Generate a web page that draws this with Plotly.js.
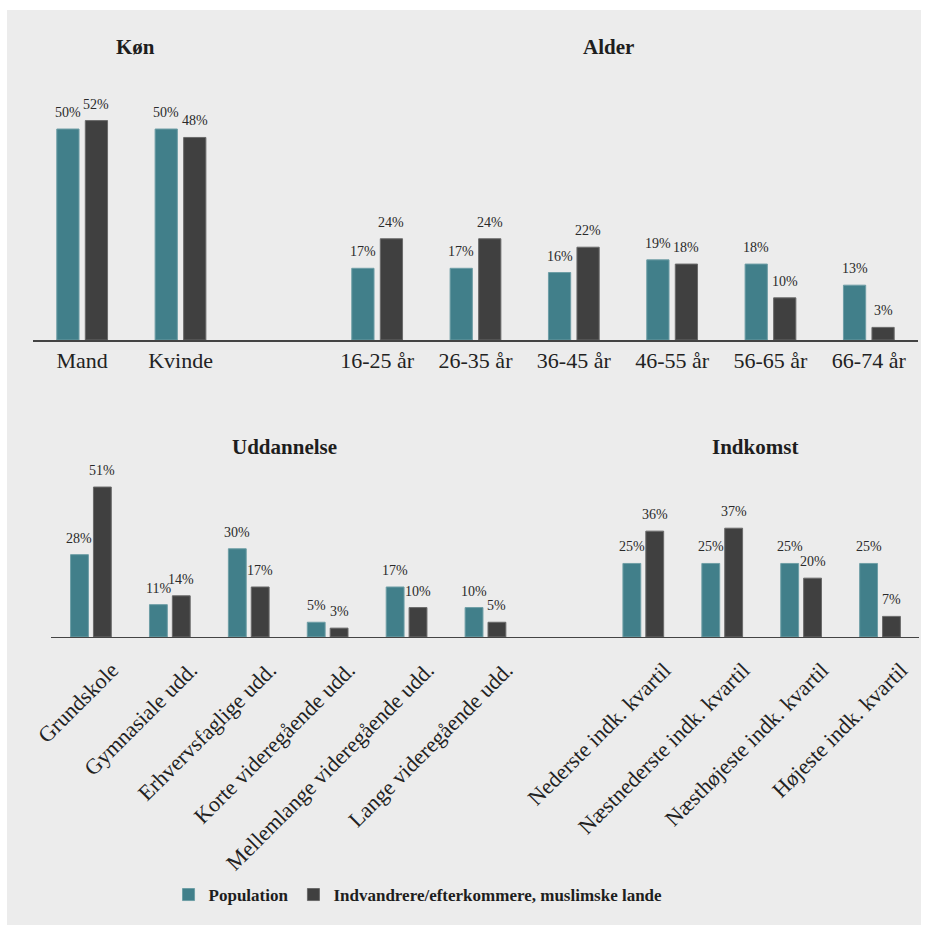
<!DOCTYPE html>
<html>
<head>
<meta charset="utf-8">
<script src="https://cdn.plot.ly/plotly-3.0.1.min.js"></script>
<style>
  html, body { margin: 0; padding: 0; background: #ffffff; }
  #chart { position: absolute; left: 7px; top: 10px; width: 914px; height: 915px; }
</style>
</head>
<body>
<div id="chart"></div>
<script>
// Køn
const konCats = ['Mand', 'Kvinde'];
const konPop = [50, 50];
const konImm = [52, 48];
// Alder
const alderCats = ['16-25 år', '26-35 år', '36-45 år', '46-55 år', '56-65 år', '66-74 år'];
const alderPop = [17, 17, 16, 19, 18, 13];
const alderImm = [24, 24, 22, 18, 10, 3];
// Uddannelse
const uddCats = ['Grundskole', 'Gymnasiale udd.', 'Erhvervsfaglige udd.', 'Korte videregående udd.',
                 'Mellemlange videregående udd.', 'Lange videregående udd.'];
const uddPop = [28, 11, 30, 5, 17, 10];
const uddImm = [51, 14, 17, 3, 10, 5];
// Indkomst
const indCats = ['Nederste indk. kvartil', 'Næstnederste indk. kvartil', 'Næsthøjeste indk. kvartil', 'Højeste indk. kvartil'];
const indPop = [25, 25, 25, 25];
const indImm = [36, 37, 20, 7];

const seriesNames = ['Population', 'Indvandrere/efterkommere, muslimske lande'];
const colPop = '#417f8a';
const colImm = '#404040';
const serif = 'Liberation Serif, Times New Roman, serif';
const BARGAP = 0.42;

// Two panels share one axis per row, with one empty slot between them.
function rowPositions(leftCats, rightCats) {
  const left = leftCats.map((_, i) => i);
  const right = rightCats.map((_, i) => leftCats.length + 1 + i);
  return { pos: left.concat(right), labels: leftCats.concat(rightCats), slots: leftCats.length + 1 + rightCats.length };
}

const topRow = rowPositions(konCats, alderCats);
const botRow = rowPositions(uddCats, indCats);
const topPop = konPop.concat(alderPop), topImm = konImm.concat(alderImm);
const botPop = uddPop.concat(indPop), botImm = uddImm.concat(indImm);

function bar(name, x, y, color, edge, xa, ya, showlegend) {
  return {
    type: 'bar', name: name, x: x, y: y, xaxis: xa, yaxis: ya,
    marker: { color: color, line: { color: edge, width: 1 } },
    showlegend: showlegend, legendgroup: name, hoverinfo: 'skip'
  };
}

const data = [
  bar(seriesNames[0], topRow.pos, topPop, colPop, '#6e9ea6', 'x', 'y', true),
  bar(seriesNames[1], topRow.pos, topImm, colImm, '#6a6a6a', 'x', 'y', true),
  bar(seriesNames[0], botRow.pos, botPop, colPop, '#6e9ea6', 'x2', 'y2', false),
  bar(seriesNames[1], botRow.pos, botImm, colImm, '#6a6a6a', 'x2', 'y2', false)
];

// Value labels above each bar
const half = (1 - BARGAP) / 4;
const annotations = [];
function labels(pos, vals, shift, xr, yr) {
  pos.forEach((p, i) => {
    annotations.push({
      x: p + shift, y: vals[i], xref: xr, yref: yr, text: vals[i] + '%',
      showarrow: false, yanchor: 'bottom', xanchor: 'center', yshift: 7,
      font: { family: serif, size: 14, color: '#2a2a2a' }
    });
  });
}
labels(topRow.pos, topPop, -half, 'x', 'y');
labels(topRow.pos, topImm, half, 'x', 'y');
labels(botRow.pos, botPop, -half, 'x2', 'y2');
labels(botRow.pos, botImm, half, 'x2', 'y2');

// Panel headings
const headings = [
  { text: 'Køn', x: 0.115, y: 0.9596 },
  { text: 'Alder', x: 0.648, y: 0.9596 },
  { text: 'Uddannelse', x: 0.283, y: 0.5224 },
  { text: 'Indkomst', x: 0.813, y: 0.5224 }
];
headings.forEach(h => annotations.push({
  x: h.x, y: h.y, xref: 'paper', yref: 'paper', text: h.text, showarrow: false,
  xanchor: 'center', yanchor: 'middle',
  font: { family: serif, size: 21, color: '#1e1e1e', weight: 'bold' }
}));

const xBase = {
  showline: true, linecolor: '#444444', linewidth: 1.5, ticks: '', showgrid: false,
  zeroline: false, fixedrange: true,
  tickfont: { family: serif, size: 22, color: '#222222' }
};

const layout = {
  width: 914, height: 915,
  margin: { l: 26, r: 0, t: 0, b: 0 },
  paper_bgcolor: '#ececec', plot_bgcolor: 'rgba(0,0,0,0)',
  barmode: 'group', bargap: BARGAP, bargroupgap: 0.22,
  xaxis: Object.assign({}, xBase, {
    domain: [0, 0.9966], range: [-0.5, topRow.slots - 0.5], anchor: 'y',
    tickmode: 'array', tickvals: topRow.pos, ticktext: topRow.labels, tickangle: 0
  }),
  yaxis: { domain: [0.6393, 0.9016], range: [0, 56.87], visible: false, fixedrange: true },
  xaxis2: Object.assign({}, xBase, {
    domain: [0.0208, 0.9983], range: [-0.5, botRow.slots - 0.5], anchor: 'y2',
    tickmode: 'array', tickvals: botRow.pos, ticktext: botRow.labels, tickangle: -45,
    ticklabelshift: 21, ticklabelstandoff: 10
  }),
  yaxis2: { domain: [0.3148, 0.5082], range: [0, 60.2], visible: false, fixedrange: true },
  showlegend: true,
  legend: {
    orientation: 'h', x: 0.4336, xanchor: 'center', y: 0.0328, yanchor: 'middle',
    font: { family: serif, size: 17, color: '#1e1e1e', weight: 'bold' },
    bgcolor: 'rgba(0,0,0,0)', itemclick: false, itemdoubleclick: false
  },
  annotations: annotations
};

Plotly.newPlot('chart', data, layout, { displayModeBar: false, staticPlot: true });
</script>
</body>
</html>
